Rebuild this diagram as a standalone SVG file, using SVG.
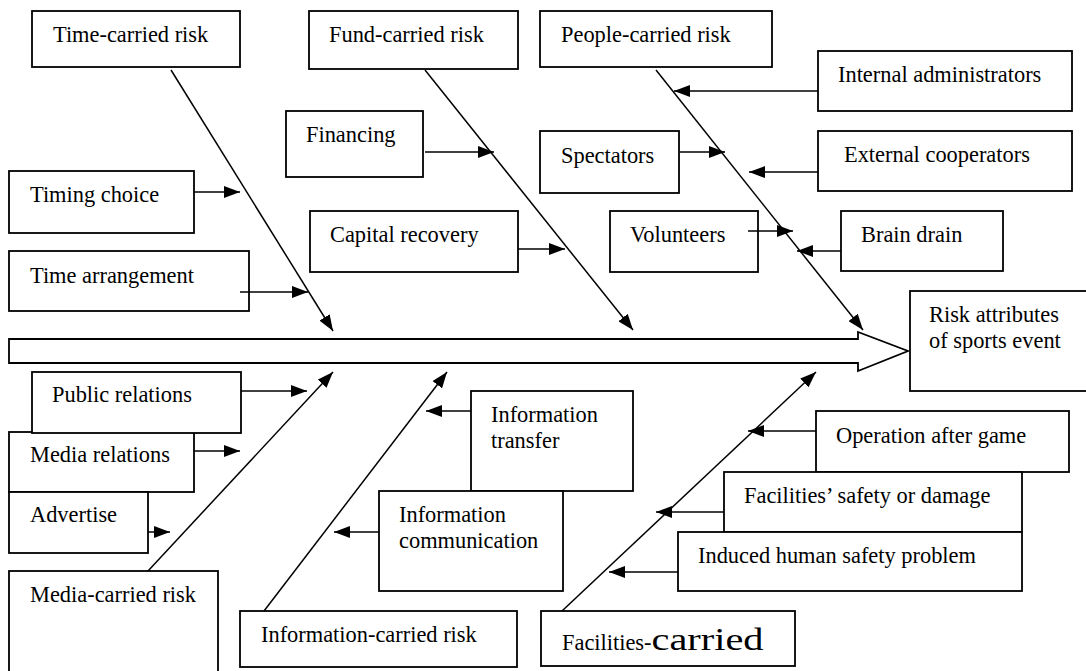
<svg xmlns="http://www.w3.org/2000/svg" width="1086" height="671" viewBox="0 0 1086 671">
<style>
.box{fill:#fff;stroke:#000;stroke-width:1.8}
.t{font-family:"Liberation Serif","Times New Roman",serif;font-size:22.4px;fill:#000}
.ln{stroke:#000;stroke-width:1.5;fill:none;marker-end:url(#ah)}
</style>
<defs>
<marker id="ah" markerUnits="userSpaceOnUse" markerWidth="16" markerHeight="12" refX="16" refY="6" orient="auto">
<path d="M0,0 L16,6 L0,12 z" fill="#000"/>
</marker>
</defs>
<rect x="0" y="0" width="1086" height="671" fill="#fff"/>
<g id="spine">
<polygon points="9,339 858,339 858,332 908,351 858,371 858,363 9,363" fill="#fff" stroke="#000" stroke-width="1.8"/>
</g>
<g id="time-carried"><rect class="box" x="32" y="11" width="208" height="56"/><text class="t" x="53" y="42">Time-carried risk</text></g>
<g id="fund-carried"><rect class="box" x="309" y="11" width="209" height="58"/><text class="t" x="329" y="42">Fund-carried risk</text></g>
<g id="people-carried"><rect class="box" x="540" y="11" width="232" height="56"/><text class="t" x="561" y="42">People-carried risk</text></g>
<g id="internal"><rect class="box" x="818" y="51" width="254" height="60"/><text class="t" x="838" y="82">Internal administrators</text></g>
<g id="financing"><rect class="box" x="286" y="111" width="137" height="66"/><text class="t" x="306" y="142">Financing</text></g>
<g id="spectators"><rect class="box" x="540" y="131" width="139" height="62"/><text class="t" x="561" y="163">Spectators</text></g>
<g id="external"><rect class="box" x="818" y="131" width="254" height="60"/><text class="t" x="844" y="162">External cooperators</text></g>
<g id="timing"><rect class="box" x="9" y="171" width="185" height="62"/><text class="t" x="30" y="202">Timing choice</text></g>
<g id="capital"><rect class="box" x="310" y="211" width="208" height="61"/><text class="t" x="330" y="242">Capital recovery</text></g>
<g id="volunteers"><rect class="box" x="610" y="211" width="148" height="61"/><text class="t" x="630" y="242">Volunteers</text></g>
<g id="brain"><rect class="box" x="841" y="211" width="162" height="60"/><text class="t" x="861" y="242">Brain drain</text></g>
<g id="time-arr"><rect class="box" x="9" y="251" width="240" height="60"/><text class="t" x="30" y="283">Time arrangement</text></g>
<g id="risk"><rect class="box" x="910" y="291" width="190" height="100"/><text class="t" x="929" y="322">Risk attributes</text><text class="t" x="929" y="348">of sports event</text></g>
<g id="media-rel"><rect class="box" x="9" y="432" width="185" height="60"/><text class="t" x="30" y="462">Media relations</text></g>
<g id="public"><rect class="box" x="32" y="372" width="209" height="61"/><text class="t" x="52" y="402">Public relations</text></g>
<g id="advertise"><rect class="box" x="9" y="492" width="139" height="61"/><text class="t" x="30" y="522">Advertise</text></g>
<g id="media-carried"><rect class="box" x="9" y="571" width="209" height="110"/><text class="t" x="30" y="602">Media-carried risk</text></g>
<g id="info-carried"><rect class="box" x="240" y="611" width="277" height="56"/><text class="t" x="261" y="642">Information-carried risk</text></g>
<g id="info-transfer"><rect class="box" x="471" y="391" width="162" height="100"/><text class="t" x="491" y="422">Information</text><text class="t" x="491" y="448">transfer</text></g>
<g id="info-comm"><rect class="box" x="379" y="491" width="184" height="100"/><text class="t" x="399" y="522">Information</text><text class="t" x="399" y="548">communication</text></g>
<g id="facilities-carried"><rect class="box" x="541" y="611" width="254" height="55"/><text class="t" x="562" y="650">Facilities-<tspan font-size="31" textLength="112" lengthAdjust="spacingAndGlyphs">carried</tspan></text></g>
<g id="operation"><rect class="box" x="816" y="411" width="253" height="61"/><text class="t" x="836" y="443">Operation after game</text></g>
<g id="fac-safety"><rect class="box" x="724" y="472" width="298" height="60"/><text class="t" x="744" y="503">Facilities’ safety or damage</text></g>
<g id="induced"><rect class="box" x="678" y="532" width="344" height="59"/><text class="t" x="698" y="563">Induced human safety problem</text></g>
<g id="connectors">
<line class="ln" x1="171" y1="70" x2="333" y2="331"/>
<line class="ln" x1="425" y1="70" x2="633" y2="330"/>
<line class="ln" x1="656" y1="70" x2="863" y2="330"/>
<line class="ln" x1="148" y1="571" x2="333" y2="372"/>
<line class="ln" x1="264" y1="611" x2="447" y2="372"/>
<line class="ln" x1="562" y1="611" x2="816" y2="372"/>
<line class="ln" x1="194" y1="192" x2="240" y2="192"/>
<line class="ln" x1="240" y1="292" x2="308" y2="292"/>
<line class="ln" x1="425" y1="152" x2="494" y2="152"/>
<line class="ln" x1="518" y1="249" x2="565" y2="249"/>
<line class="ln" x1="680" y1="152" x2="725" y2="152"/>
<line class="ln" x1="818" y1="91" x2="674" y2="91"/>
<line class="ln" x1="818" y1="172" x2="749" y2="172"/>
<line class="ln" x1="748" y1="231" x2="793" y2="231"/>
<line class="ln" x1="841" y1="251" x2="797" y2="251"/>
<line class="ln" x1="241" y1="391" x2="307" y2="391"/>
<line class="ln" x1="194" y1="451" x2="240" y2="451"/>
<line class="ln" x1="148" y1="532" x2="170" y2="532"/>
<line class="ln" x1="471" y1="411" x2="426" y2="411"/>
<line class="ln" x1="379" y1="532" x2="334" y2="532"/>
<line class="ln" x1="816" y1="431" x2="748" y2="431"/>
<line class="ln" x1="724" y1="512" x2="656" y2="512"/>
<line class="ln" x1="678" y1="572" x2="609" y2="572"/>
</g>
</svg>
